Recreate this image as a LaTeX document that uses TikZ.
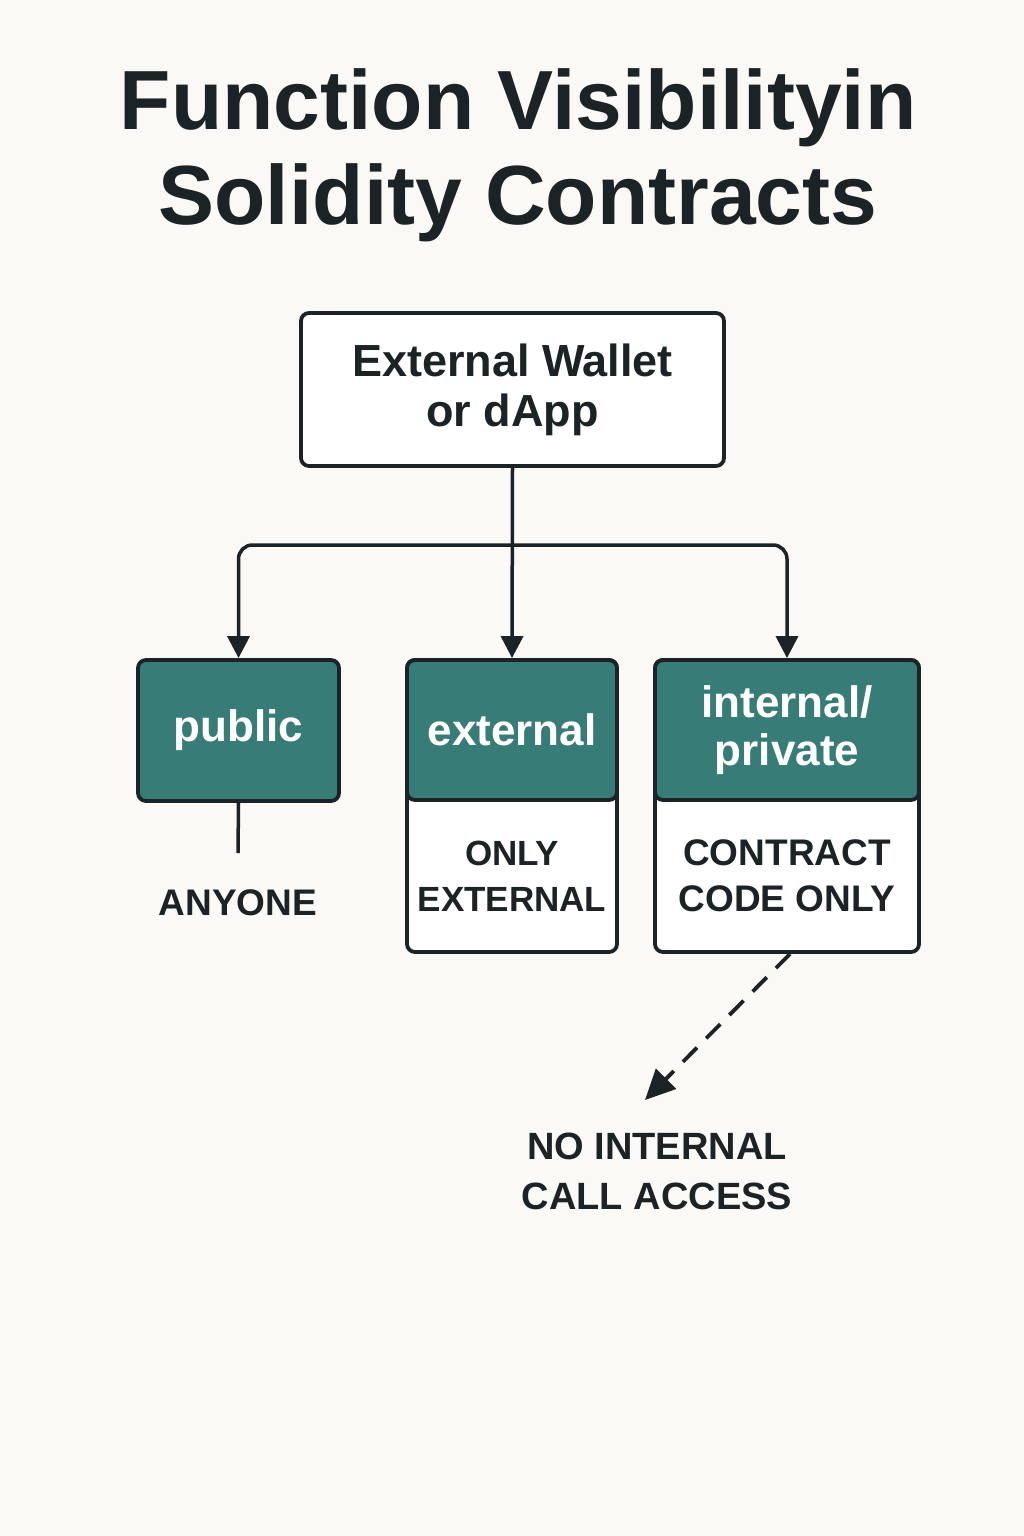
\documentclass[tikz,border=0pt]{standalone}
\usepackage{fontspec}
\setmainfont{Liberation Sans}
\usepackage{tikz}
\usetikzlibrary{arrows.meta, positioning}
\definecolor{paperbg}{RGB}{250, 249, 246}
\definecolor{inkdark}{RGB}{27, 35, 38}
\definecolor{tealhead}{RGB}{56, 124, 120}

\begin{document}
\begin{tikzpicture}[
    x=1pt, y=-1pt,
    node distance=30pt and 40pt,
    whitebox/.style={
        rectangle, draw=inkdark, fill=white, line width=3.8pt, rounded corners=8pt,
        inner sep=0pt
    },
    headbox/.style={
        rectangle, draw=inkdark, fill=tealhead, line width=3.8pt, rounded corners=8pt,
        inner sep=0pt, text=white, align=center,
        font=\bfseries\fontsize{44}{48}\selectfont
    },
    caplabel/.style={
        text=inkdark, align=center, inner sep=0pt,
        font=\bfseries\fontsize{37}{46}\selectfont
    },
    flow/.style={
        -{Triangle[length=22pt, width=22pt]}, line width=3.5pt, draw=inkdark
    },
    noaccess/.style={
        -{Triangle[length=30pt, width=28pt]}, line width=3.8pt, draw=inkdark,
        dash pattern=on 20pt off 13pt
    }
]

% Background and page size
\fill[paperbg] (0,0) rectangle (1024,1536);

% Title
\node[text=inkdark, align=center, font=\bfseries\fontsize{84}{95}\selectfont] (title) at (518,155)
    {Function Visibilityin\\Solidity Contracts};

% Row 1 (Top): caller
\node[whitebox, minimum width=423pt, minimum height=153pt, align=center,
      text=inkdark, font=\bfseries\fontsize{45}{50}\selectfont] (wallet) at (512.5,389.5)
    {External Wallet\\or dApp};

% Row 2: visibility kinds
\node[headbox, minimum width=201pt, minimum height=141pt] (pubhead) at (238.5,730.5) {public};

\node[whitebox, minimum width=210pt, minimum height=292pt] (extbox) at (512,806) {};
\node[headbox, minimum width=210pt, minimum height=140pt] (exthead) at (512,730) {external};
\node[caplabel, font=\bfseries\fontsize{35}{46}\selectfont] (extbody) at (512,876) {ONLY\\EXTERNAL};

\node[whitebox, minimum width=264pt, minimum height=292pt] (intbox) at (787,806) {};
\node[headbox, minimum width=264pt, minimum height=140pt] (inthead) at (787,730) {internal/\\private};
\node[caplabel] (intbody) at (787,876) {CONTRACT\\CODE ONLY};

% Row 3: outcomes
\coordinate (pubend) at (238,853);
\node[caplabel, below=36pt of pubend] (anyone) {ANYONE};

\coordinate (noend) at (645,1100);
\node[caplabel, font=\bfseries\fontsize{38}{50}\selectfont] (nointernal) at (657,1171)
    {NO INTERNAL\\CALL ACCESS};

% Calls from the wallet
\coordinate (split) at (512,545);
\draw[flow] (wallet.south) -- (exthead.north);
\draw[flow, rounded corners=14pt] (split) -| (pubhead.north);
\draw[flow, rounded corners=14pt] (split) -| (inthead.north);

% Outcome links
\draw[line width=3.5pt, draw=inkdark] (pubhead.south) -- (pubend);
\draw[noaccess] ([xshift=3pt]intbox.south) -- (noend);

\end{tikzpicture}
\end{document}
